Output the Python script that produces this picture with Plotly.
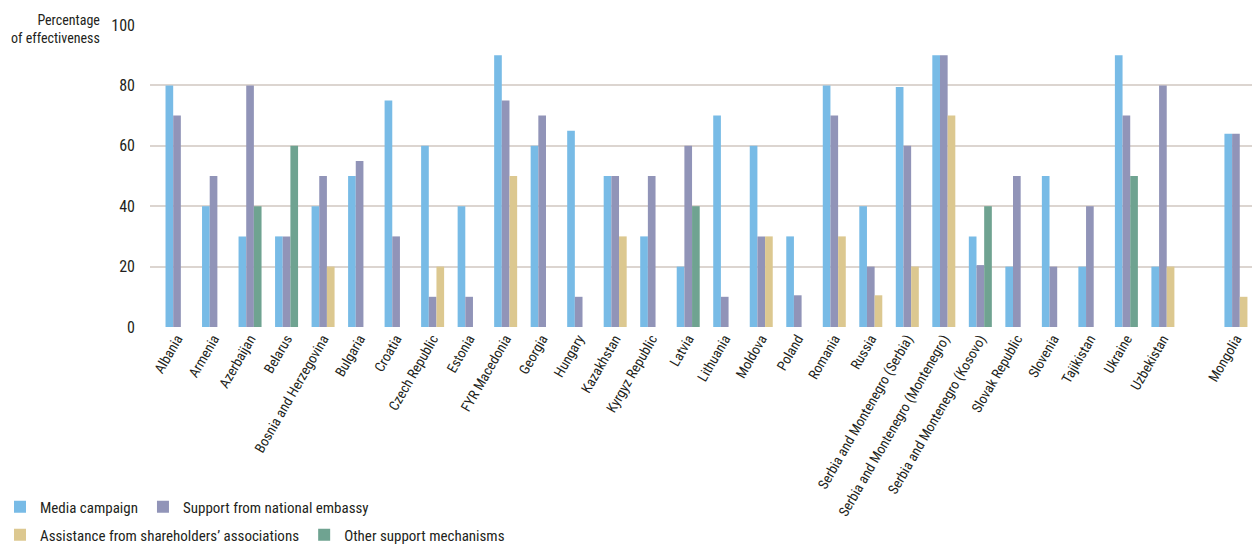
import plotly.graph_objects as go

categories = ["Albania", "Armenia", "Azerbaijan", "Belarus", "Bosnia and Herzegovina",
              "Bulgaria", "Croatia", "Czech Republic", "Estonia", "FYR Macedonia",
              "Georgia", "Hungary", "Kazakhstan", "Kyrgyz Republic", "Latvia",
              "Lithuania", "Moldova", "Poland", "Romania", "Russia",
              "Serbia and Montenegro (Serbia)", "Serbia and Montenegro (Montenegro)",
              "Serbia and Montenegro (Kosovo)", "Slovak Republic", "Slovenia",
              "Tajikistan", "Ukraine", "Uzbekistan", " ", "Mongolia"]

media_campaign = [80, 40, 30, 30, 40, 50, 75, 60, 40, 90,
                  60, 65, 50, 30, 20, 70, 60, 30, 80, 40,
                  79.5, 90, 30, 20, 50, 20, 90, 20, None, 64]
national_embassy = [70, 50, 80, 30, 50, 55, 30, 10, 10, 75,
                    70, 10, 50, 50, 60, 10, 30, 10.5, 70, 20,
                    60, 90, 20.5, 50, 20, 40, 70, 80, None, 64]
shareholders_assoc = [None, None, None, None, 20, None, None, 20, None, 50,
                      None, None, 30, None, None, None, 30, None, 30, 10.5,
                      20, 70, None, None, None, None, None, 20, None, 10]
other_mechanisms = [None, None, 40, 60, None, None, None, None, None, None,
                    None, None, None, None, 40, None, None, None, None, None,
                    None, None, 40, None, None, None, 50, None, None, None]

series_names = ["Media campaign", "Support from national embassy",
                "Assistance from shareholders\u2019 associations", "Other support mechanisms"]
y_ticks = [0, 20, 40, 60, 80, 100]

FONT = "Liberation Sans Narrow, Roboto Condensed, Arial Narrow, sans-serif"
TXT = "#231f20"

fig = go.Figure()
specs = [
    (series_names[0], media_campaign, "#78bbe6", "a", "legend"),
    (series_names[1], national_embassy, "#9194b8", "b", "legend"),
    (series_names[2], shareholders_assoc, "#dcc890", "c", "legend2"),
    (series_names[3], other_mechanisms, "#6fa391", "c", "legend2"),
]
for name, vals, col, grp, leg in specs:
    fig.add_trace(go.Bar(x=categories, y=vals, name=name, marker_color=col,
                         marker_line_width=0, offsetgroup=grp, legend=leg))

fig.update_layout(
    width=1252, height=545,
    margin=dict(l=150, r=0, t=25, b=218, autoexpand=False),
    paper_bgcolor="white", plot_bgcolor="white",
    barmode="group", bargap=0.37,
    font=dict(family=FONT, color=TXT),
    xaxis=dict(type="category", tickangle=-60, range=[-0.74, 29.44],
               showgrid=False, showline=False, ticks="", automargin=False,
               tickfont=dict(size=14, color=TXT)),
    yaxis=dict(range=[0, 100], tickvals=y_ticks, showgrid=True,
               gridcolor="#dcd5d0", gridwidth=2, zeroline=False,
               ticks="", ticklabelstandoff=14, automargin=False,
               tickfont=dict(size=16, color=TXT)),
    legend=dict(orientation="h", xref="container", yref="container",
                x=0.0, y=1 - 507 / 545, xanchor="left", yanchor="middle",
                font=dict(size=15, color=TXT), bgcolor="rgba(0,0,0,0)",
                traceorder="normal"),
    legend2=dict(orientation="h", xref="container", yref="container",
                 x=0.0, y=1 - 535 / 545, xanchor="left", yanchor="middle",
                 font=dict(size=15, color=TXT), bgcolor="rgba(0,0,0,0)",
                 traceorder="normal"),
    annotations=[dict(text="Percentage<br>of effectiveness", xref="paper", yref="paper",
                      x=-48 / 1102, y=1 - 4 / 302, xanchor="right", yanchor="middle",
                      align="right", showarrow=False,
                      font=dict(size=14, color=TXT))],
)

fig.write_html("out.html")
